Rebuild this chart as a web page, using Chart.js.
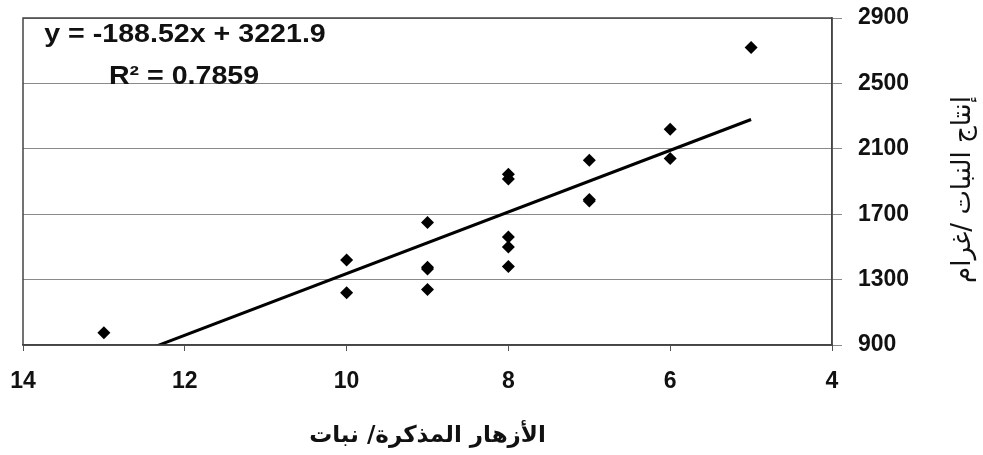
<!DOCTYPE html>
<html>
<head>
<meta charset="utf-8">
<script src="https://cdn.jsdelivr.net/npm/chart.js@4.4.0/dist/chart.umd.min.js"></script>
<style>
html,body{margin:0;padding:0;background:#fff;}
#wrap{width:983px;height:455px;position:relative;}
</style>
</head>
<body>
<div id="wrap"><canvas id="c"></canvas></div>
<script>
// Data
const maleFlowers = [13, 10, 10, 9, 9, 9, 9, 8, 8, 8, 8, 8, 7, 7, 7, 6, 6, 5];
const plantYield  = [975, 1420, 1220, 1650, 1375, 1365, 1240, 1915, 1945, 1560, 1500, 1380, 2030, 1790, 1780, 2220, 2040, 2720];
const trendSlope = -188.52;
const trendIntercept = 3221.9;
const trendX = [13, 5];
const xTicks = [14, 12, 10, 8, 6, 4];
const yTicks = [900, 1300, 1700, 2100, 2500, 2900];
const equationText = 'y = -188.52x + 3221.9';
const r2Text = 'R\u00B2 = 0.7859';
const xTitle = 'الأزهار المذكرة/ نبات';
const yTitle = 'إنتاج النبات /غرام';

const scatterData = maleFlowers.map((x, i) => ({x: x, y: plantYield[i]}));
const trendData = trendX.map(x => ({x: x, y: trendSlope * x + trendIntercept}));

const framePlugin = {
  id: 'frame',
  afterDraw(chart) {
    const {ctx, chartArea: a} = chart;
    ctx.save();
    ctx.strokeStyle = '#444';
    ctx.lineWidth = 1.5;
    ctx.strokeRect(a.left, a.top, a.right - a.left, a.bottom - a.top);
    // equation text
    ctx.fillStyle = '#111';
    ctx.textAlign = 'center';
    ctx.textBaseline = 'middle';
    ctx.font = 'bold 26px "Liberation Sans", Arial, sans-serif';
    ctx.save();
    ctx.translate(a.left + 162, a.top + 17);
    ctx.scale(1.1, 1);
    ctx.fillText(equationText, 0, 0);
    ctx.restore();
    ctx.save();
    ctx.translate(a.left + 161, a.top + 59);
    ctx.scale(1.1, 1);
    ctx.fillText(r2Text, 0, 0);
    ctx.restore();
    // y-axis title, rotated counter-clockwise
    ctx.font = '26px "DejaVu Sans", sans-serif';
    ctx.translate(963, (a.top + a.bottom) / 2 + 8);
    ctx.rotate(-Math.PI / 2);
    ctx.fillText(yTitle, 0, 0);
    ctx.restore();
  }
};

new Chart(document.getElementById('c'), {
  type: 'scatter',
  data: {
    datasets: [
      {
        type: 'scatter',
        data: scatterData,
        pointStyle: 'rectRot',
        pointRadius: 6.5,
        pointHoverRadius: 6.5,
        backgroundColor: '#000',
        borderColor: '#000',
        borderWidth: 0,
        order: 1
      },
      {
        type: 'line',
        data: trendData,
        borderColor: '#000',
        borderWidth: 3,
        pointRadius: 0,
        fill: false,
        order: 2
      }
    ]
  },
  options: {
    responsive: true,
    maintainAspectRatio: false,
    animation: false,
    layout: {padding: {left: 23, top: 18, right: 0, bottom: 0}},
    plugins: {legend: {display: false}, tooltip: {enabled: false}},
    scales: {
      x: {
        type: 'linear',
        reverse: true,
        min: 4, max: 14,
        afterBuildTicks(scale) { scale.ticks = xTicks.map(v => ({value: v})); },
        afterFit(scale) { scale.height = 110; scale.paddingLeft = 0; scale.paddingRight = 0; },
        ticks: {
          color: '#111',
          padding: 17,
          callback: v => String(v),
          font: {family: '"Liberation Sans", Arial, sans-serif', size: 23, weight: 'bold'}
        },
        grid: {drawOnChartArea: false, drawTicks: true, tickLength: 6, color: '#555'},
        border: {display: true, color: '#444', width: 1.5},
        title: {
          display: true,
          text: xTitle,
          color: '#111',
          padding: {top: 0, bottom: 5},
          font: {family: '"DejaVu Sans", sans-serif', size: 23, weight: 'bold'}
        }
      },
      y: {
        type: 'linear',
        position: 'right',
        min: 900, max: 2900,
        afterBuildTicks(scale) { scale.ticks = yTicks.map(v => ({value: v})); },
        afterFit(scale) { scale.width = 151; scale.paddingTop = 0; scale.paddingBottom = 0; },
        ticks: {
          color: '#111',
          padding: 16,
          callback: v => String(v),
          font: {family: '"Liberation Sans", Arial, sans-serif', size: 23, weight: 'bold'}
        },
        grid: {color: '#8a8a8a', lineWidth: 1, tickLength: 10},
        border: {display: true, color: '#444', width: 1.5}
      }
    }
  },
  plugins: [framePlugin]
});
</script>
</body>
</html>
